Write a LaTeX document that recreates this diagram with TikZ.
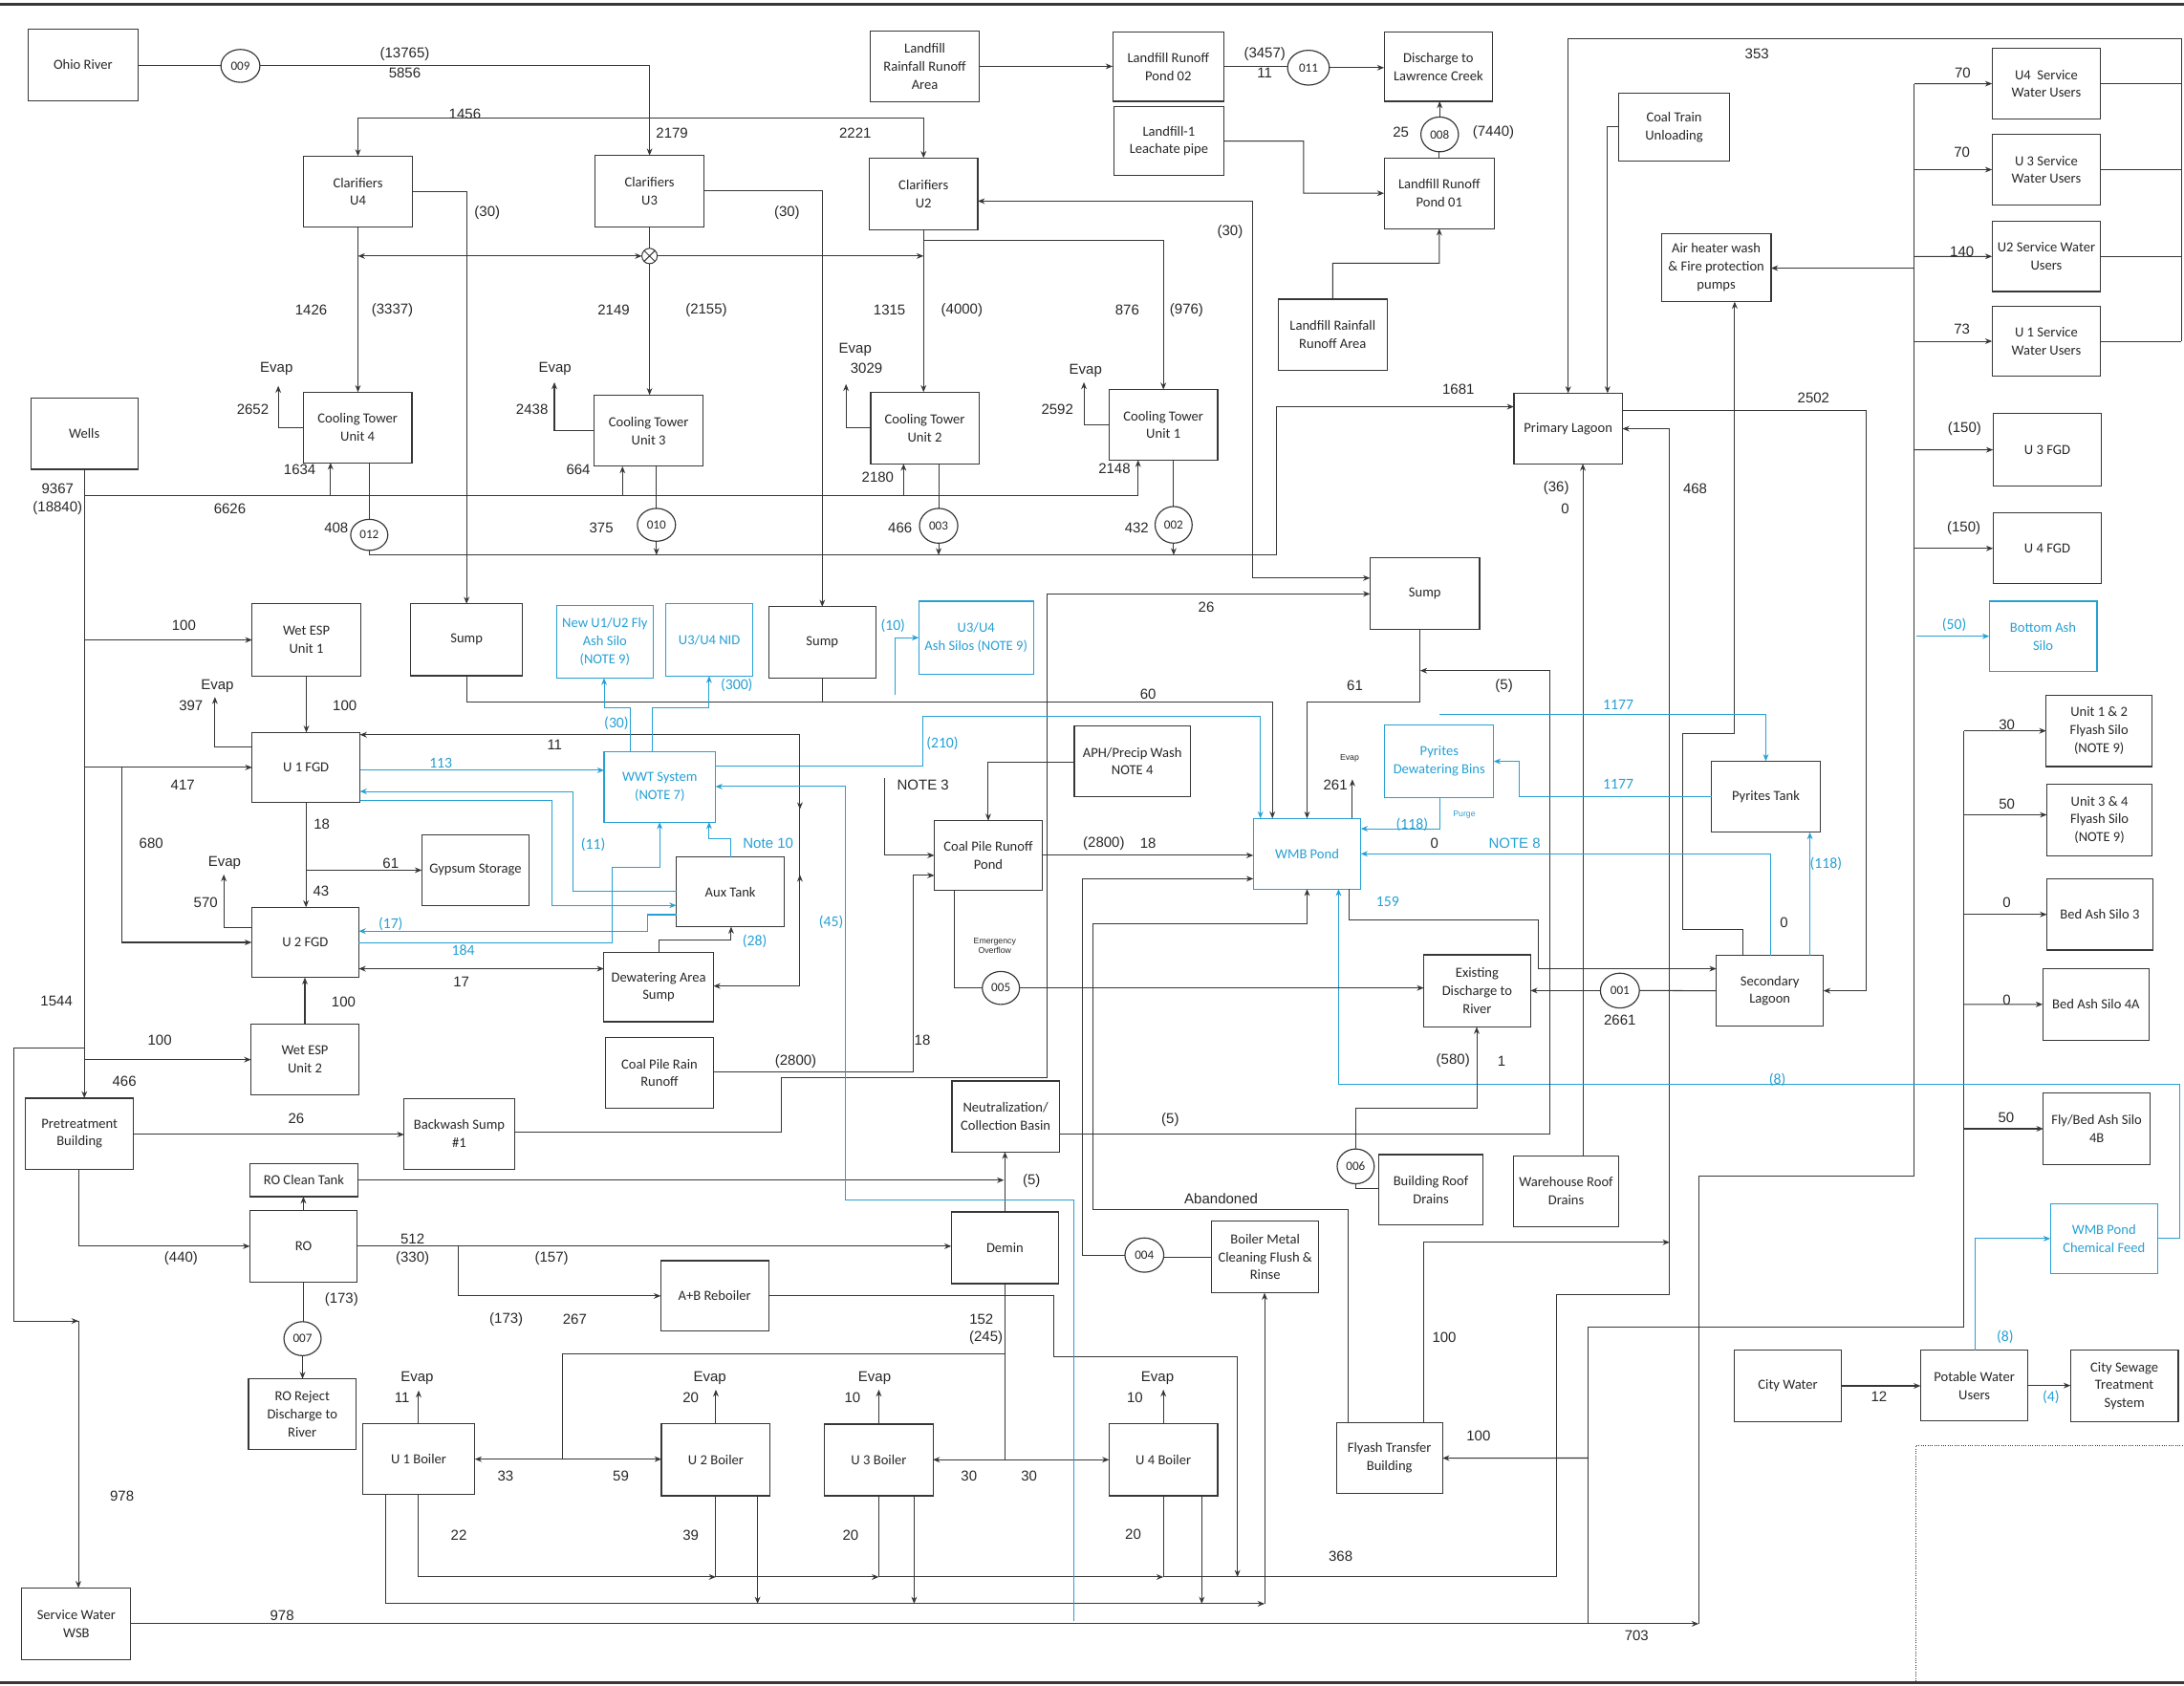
\documentclass[tikz,border=0pt]{standalone}
\usepackage{fontspec}
\setmainfont{Carlito}
\newfontfamily\arialf{Liberation Sans}
\usetikzlibrary{arrows.meta,shapes.geometric}
\definecolor{bluec}{RGB}{38,160,212}
\definecolor{ink}{RGB}{55,55,55}
\definecolor{txt}{RGB}{40,40,40}
\newcounter{lbn}
\newcommand\BX[7]{\node[#1, minimum width={(#5-#3)*1pt}, minimum height={(#6-#4)*1pt}] (#2) at ({(#3+#5)/2},{(#4+#6)/2}) {#7};}
\newcommand\OV[6]{\node[ov, minimum width=#4pt, minimum height=#5pt] (#1) at (#2,#3) {#6};}
\newcommand\LB[3][]{\stepcounter{lbn}\node[lab,#1] (lb\thelbn) at (#2) {#3};}
\tikzset{
 bx/.style={draw=ink, line width=0.8pt, align=center, inner sep=1pt, outer sep=0pt, text=txt, font=\fontsize{10}{12.9}\selectfont},
 bbx/.style={bx, draw=bluec, text=bluec},
 ov/.style={draw=ink, line width=0.8pt, ellipse, inner sep=0pt, outer sep=0pt, text=txt, font=\fontsize{9}{10}\selectfont},
 ln/.style={draw=ink, line width=0.7pt},
 bl/.style={draw=bluec, line width=0.7pt},
 ar/.style={-{Stealth[length=5pt,width=4pt]}},
 dar/.style={{Stealth[length=5pt,width=4pt]}-{Stealth[length=5pt,width=4pt]}},
 lab/.style={inner sep=0pt, text=txt, font=\arialf\fontsize{10.3}{12}\selectfont},
 blab/.style={text=bluec, font=\fontsize{10.8}{12}\selectfont},
 bnote/.style={text=bluec},
 tinylab/.style={font=\arialf\fontsize{6}{7}\selectfont, align=center},
}
\begin{document}
\begin{tikzpicture}[x=1pt,y=-1pt]
\useasboundingbox (0,0) rectangle (1568,1210);
\fill[white] (0,0) rectangle (1568,1210);
\draw[ink, line width=1.6pt] (0,3) -- (1568,3);
\draw[ink, line width=1.6pt] (0,1208) -- (1568,1208);

% ---------------- boxes ----------------
\BX{bx}{ohio}{20.3}{21}{99}{72.2}{Ohio River}
\OV{o009}{172.6}{47.3}{28}{23.6}{009}
\BX{bx}{lrra}{624.6}{22.3}{703.3}{73}{Landfill\\Rainfall Runoff\\Area}
\BX{bx}{lrp2}{798.8}{23.1}{878.8}{72.7}{Landfill Runoff\\Pond 02}
\OV{o011}{939.4}{48.6}{30}{25}{011}
\BX{bx}{dlc}{993.7}{23.1}{1071.7}{72.7}{Discharge to\\Lawrence Creek}
\BX{bx}{leach}{799.6}{76.7}{878.8}{126}{Landfill-1\\Leachate pipe}
\OV{o008}{1033.6}{96.5}{27}{25}{008}
\BX{bx}{lrp1}{993.7}{113.4}{1072.9}{164.1}{Landfill Runoff\\Pond 01}
\BX{bx}{lrra2}{917.6}{214.8}{996}{265.7}{Landfill Rainfall\\Runoff Area}
\BX{bx}{ctu}{1162}{67}{1241.8}{115.5}{Coal Train\\Unloading}
\BX{bx}{clu4}{217.8}{112.1}{296.2}{163.1}{Clarifiers\\U4}
\BX{bx}{clu3}{427.1}{111.6}{505.6}{162.8}{Clarifiers\\U3}
\BX{bx}{clu2}{624.1}{113.4}{702}{164.9}{Clarifiers\\U2}
\BX{bx}{ct4}{217.8}{281.5}{295.7}{332.2}{Cooling Tower\\Unit 4}
\BX{bx}{ct3}{426.6}{283.6}{504.8}{334.8}{Cooling Tower\\Unit 3}
\BX{bx}{ct2}{625.1}{281.5}{702.8}{333}{Cooling Tower\\Unit 2}
\BX{bx}{ct1}{796.3}{279.7}{874.2}{330.3}{Cooling Tower\\Unit 1}
\OV{o012}{265.1}{384}{26.7}{22.3}{012}
\OV{o010}{471.3}{376.8}{27.4}{23.6}{010}
\OV{o003}{673.9}{377.5}{27.5}{25}{003}
\OV{o002}{842.6}{376.8}{26.6}{26.3}{002}
\node[draw=ink, line width=0.7pt, circle, minimum size=11pt, inner sep=0pt, outer sep=0pt] (ox) at (466.35,183.8) {};
\draw[ln] (ox.north west) -- (ox.south east) (ox.north east) -- (ox.south west);
\BX{bx}{wells}{22.1}{285.7}{99}{336.9}{Wells}
\BX{bx}{pl}{1086.9}{282.3}{1164.8}{333}{Primary Lagoon}
\BX{bx}{ahw}{1192.8}{167.5}{1271.5}{216.6}{Air heater wash\\\& Fire protection\\pumps}
\BX{bx}{u4sw}{1430.2}{34.9}{1508.1}{85.3}{U4~ Service\\Water Users}
\BX{bx}{u3sw}{1430.2}{96.6}{1508.1}{147}{U 3 Service\\Water Users}
\BX{bx}{u2sw}{1430.2}{158.9}{1508.1}{209.3}{U2 Service Water\\Users}
\BX{bx}{u1sw}{1430.2}{220}{1508.1}{270}{U 1 Service\\Water Users}
\BX{bx}{u3fgd}{1430.9}{296.7}{1508.8}{349.2}{U 3 FGD}
\BX{bx}{u4fgd}{1430.9}{368.4}{1508.8}{419}{U 4 FGD}
\BX{bbx}{bas}{1428.1}{431.6}{1505.5}{482}{Bottom Ash\\Silo}
\BX{bx}{sump1}{294.9}{433.5}{375.1}{485.2}{Sump}
\BX{bx}{sump2}{551.8}{435.6}{628.9}{486.8}{Sump}
\BX{bbx}{nusilo}{399.5}{434.8}{469}{486.8}{New U1/U2 Fly\\Ash Silo\\(NOTE 9)}
\BX{bbx}{nid}{478.2}{433.5}{540.3}{485.4}{U3/U4 NID}
\BX{bbx}{ash34}{659.6}{431.6}{741.9}{484.1}{U3/U4\\Ash Silos (NOTE 9)}
\BX{bx}{sump3}{983.6}{400.6}{1062.3}{451.8}{Sump}
\BX{bx}{wesp1}{181}{433.5}{258.9}{485.4}{Wet ESP\\Unit 1}
\BX{bx}{u1fgd}{181}{525.9}{258.4}{576}{U 1 FGD}
\BX{bx}{gyp}{302.8}{599.4}{380}{650.1}{Gypsum Storage}
\BX{bx}{u2fgd}{180.7}{651.4}{257.6}{701.8}{U 2 FGD}
\BX{bx}{wesp2}{180.2}{735.4}{257.6}{786.1}{Wet ESP\\Unit 2}
\BX{bbx}{wwt}{433.7}{539.8}{513.7}{590.2}{WWT System\\(NOTE 7)}
\BX{bx}{aux}{485.5}{615.4}{563.2}{665.3}{Aux Tank}
\BX{bx}{dew}{433.5}{683.7}{512.2}{733.6}{Dewatering Area\\Sump}
\BX{bx}{cprr}{434.8}{744.6}{512.2}{795.8}{Coal Pile Rain\\Runoff}
\BX{bx}{cprp}{670.8}{589.2}{748.2}{639}{Coal Pile Runoff\\Pond}
\BX{bx}{aph}{771.3}{520.9}{854.6}{572.1}{APH/Precip Wash\\NOTE 4}
\BX{bbx}{wmb}{899.8}{587.6}{977}{638.3}{WMB Pond}
\BX{bbx}{pdb}{994.2}{520.6}{1072.4}{572.6}{Pyrites\\Dewatering Bins}
\BX{bx}{ptank}{1228.9}{546.4}{1306.6}{597.6}{Pyrites Tank}
\BX{bx}{slag}{1232.2}{686}{1309.1}{736.7}{Secondary\\Lagoon}
\BX{bx}{edr}{1022.2}{685.5}{1098.8}{737.3}{Existing\\Discharge to\\River}
\OV{o001}{1163}{711.2}{28}{25}{001}
\OV{o005}{718.6}{709.3}{26.7}{23.7}{005}
\BX{bx}{neut}{683.5}{776.1}{760.4}{827}{Neutralization/\\Collection Basin}
\OV{o006}{973.3}{837.4}{26.6}{25}{006}
\BX{bx}{brd}{990}{828.9}{1064.6}{879.3}{Building Roof\\Drains}
\BX{bx}{wrd}{1086.4}{829.7}{1162.3}{880.6}{Warehouse Roof\\Drains}
\BX{bx}{bmc}{869.9}{876.7}{946.8}{928.2}{Boiler Metal\\Cleaning Flush \&\\Rinse}
\OV{o004}{821.6}{901.1}{27.9}{24.6}{004}
\BX{bx}{fatb}{959.5}{1021.4}{1035.6}{1072.3}{Flyash Transfer\\Building}
\BX{bx}{pre}{18.3}{788.4}{95.9}{839.4}{Pretreatment\\Building}
\BX{bx}{bws}{290.1}{788.7}{369.3}{839.4}{Backwash Sump\\\#1}
\BX{bx}{roct}{179.4}{835.5}{256.9}{859.1}{RO Clean Tank}
\BX{bx}{ro}{179.4}{869.1}{256.3}{920.3}{RO}
\OV{o007}{217.2}{961.1}{26.7}{24.4}{007}
\BX{bx}{ror}{178.4}{989.9}{255.6}{1040.8}{RO Reject\\Discharge to\\River}
\BX{bx}{demin}{683}{870.1}{760}{921.6}{Demin}
\BX{bx}{abr}{474.4}{905.1}{551.8}{955.7}{A+B Reboiler}
\BX{bx}{u1b}{260.2}{1021.9}{340.9}{1073.1}{U 1 Boiler}
\BX{bx}{u2b}{474.9}{1021.9}{553}{1073.9}{U 2 Boiler}
\BX{bx}{u3b}{592.1}{1022.4}{669.8}{1073.9}{U 3 Boiler}
\BX{bx}{u4b}{796.3}{1021.9}{874.2}{1073.9}{U 4 Boiler}
\BX{bx}{wsb}{15.7}{1140.1}{93.9}{1191.8}{Service Water\\WSB}
\BX{bx}{u12fs}{1469}{499.1}{1545.1}{550.3}{Unit 1 \& 2\\Flyash Silo\\(NOTE 9)}
\BX{bx}{u34fs}{1469.5}{562.9}{1545.1}{614.6}{Unit 3 \& 4\\Flyash Silo\\(NOTE 9)}
\BX{bx}{bas3}{1469.5}{630.9}{1545.6}{682.1}{Bed Ash Silo 3}
\BX{bx}{bas4a}{1466.5}{695.5}{1543.1}{746.7}{Bed Ash Silo 4A}
\BX{bx}{fbas4b}{1467}{784.8}{1543.6}{836}{Fly/Bed Ash Silo\\4B}
\BX{bbx}{wmbcf}{1472}{864.3}{1549}{914.2}{WMB Pond\\Chemical Feed}
\BX{bx}{cw}{1245.4}{969.4}{1321.8}{1020.6}{City Water}
\BX{bx}{pwu}{1378.9}{969.4}{1456}{1020.1}{Potable Water\\Users}
\BX{bx}{cst}{1486.5}{969.4}{1563.9}{1020.6}{City Sewage\\Treatment\\System}

% ---------------- connectors: intake / clarifiers / towers ----------------
\draw[ln] (o009.west -| ohio.east) -- (o009.west);
\draw[ln,ar] (o009.east) -| (clu3.north);
\draw[ln,ar] (466.35,84.8) -| (clu4.north);
\draw[ln,ar] (466.35,84.8) -| (clu2.north);
\draw[ln,ar] (clu4.east) -| (sump1.north);
\draw[ln,ar] (clu3.east) -| (sump2.north);
\draw[ln,dar] (clu2.east |- 0,144.4) -- (899.6,144.4) -- (899.6,415) -- (sump3.west |- 0,415);
\draw[ln,ar] (clu4.south) -- (clu4.south |- ct4.north);
\draw[ln] (clu3.south) -- (ox.north);
\draw[ln,ar] (ox.south) -- (ox.south |- ct3.north);
\draw[ln,ar] (clu2.south) -- (clu2.south |- ct2.north);
\draw[ln,dar] (clu4.south |- 0,183.8) -- (ox.west);
\draw[ln,ar] (ox.east) -- (clu2.south |- 0,183.8);
\draw[ln,ar] (clu2.south |- 0,172.5) -| (ct1.north);
\draw[ln,ar] (ct4.west) -| (199.8,277);
\draw[ln,ar] (ct3.west) -| (398,274.4);
\draw[ln,ar] (ct2.west) -| (607.4,275.7);
\draw[ln,ar] (ct1.west) -| (778.2,274.4);
\draw[ln,ar] (wells.south) -- (wells.south |- pre.north);
\draw[ln] (wells.south |- 0,356) -- (817.1,356);
\draw[ln,ar] (817.1,356) -- (ct1.south -| 817.1,0);
\draw[ln,ar] (237.3,356) -- (ct4.south -| 237.3,0);
\draw[ln,ar] (446.9,356) -- (ct3.south -| 446.9,0);
\draw[ln,ar] (648.7,356) -- (ct2.south -| 648.7,0);
\draw[ln] (o012.north |- ct4.south) -- (o012.north);
\draw[ln] (o010.north |- ct3.south) -- (o010.north);
\draw[ln] (o003.north |- ct2.south) -- (o003.north);
\draw[ln] (o002.north |- ct1.south) -- (o002.north);
\draw[ln,ar] (o012.south) |- (916.1,398.5) -- (916.1,292) -- (pl.west |- 0,292);
\draw[ln,ar] (o010.south) -- (o010.south |- 0,398.5);
\draw[ln,ar] (o003.south) -- (o003.south |- 0,398.5);
\draw[ln,ar] (o002.south) -- (o002.south |- 0,398.5);

% ---------------- landfill ----------------
\draw[ln,ar] (lrra.east) -- (lrra.east -| lrp2.west);
\draw[ln] (lrp2.east) -- (lrp2.east -| o011.west);
\draw[ln,ar] (o011.east) -- (o011.east -| dlc.west);
\draw[ln,ar] (leach.east) -- (935.9,101.35) |- (lrp1.west);
\draw[ln] (lrp1.north) -- (lrp1.north |- o008.south);
\draw[ln,ar] (o008.north) -- (o008.north |- dlc.south);
\draw[ln,ar] (lrra2.north) |- (1033.3,189) -- (lrp1.south);

% ---------------- primary lagoon / service water ----------------
\draw[ln] (u4sw.east) -- (u4sw.east -| 1566,0);
\draw[ln] (u3sw.east) -- (u3sw.east -| 1566,0);
\draw[ln] (u2sw.east) -- (u2sw.east -| 1566,0);
\draw[ln] (u1sw.east) -- (u1sw.east -| 1566,0);
\draw[ln,ar] (1566,245) -- (1566,27.6) -| (pl.north);
\draw[ln,ar] (ctu.west) -| (pl.north -| 1154.1,0);
\draw[ln,ar] (pl.east |- 0,294.6) -| (1340,711.3) -- (slag.east |- 0,711.3);
\draw[ln,ar] (1117.3,1132.2) -- (1117.3,929.2) -- (1198.7,929.2) -- (1198.7,307.8) -- (pl.east |- 0,307.8);
\draw[ln,ar] (fatb.north -| 1022.2,0) |- (1198.7,891.9);
\draw[ln,ar] (wrd.north -| 1136.4,0) -- (pl.south -| 1136.4,0);
\draw[ln,ar] (slag.north -| 1251.2,0) -- (1251.2,667.2) -- (1208,667.2) -- (1208,526.7) -- (1245.4,526.7) -- (ahw.south -| 1245.4,0);
\draw[ln,ar] (wsb.east |- 0,1165.8) -- (1219.5,1165.8);
\draw[ln] (1219.5,1165.8) -- (1219.5,844.7) -- (1374.3,844.7) -- (1374.3,60.1);
\draw[ln,ar] (1374.3,192.5) -- (ahw.east |- 0,192.5);
\draw[ln,ar] (1374.3,60.1) -- (u4sw.west);
\draw[ln,ar] (1374.3,121.8) -- (u3sw.west);
\draw[ln,ar] (1374.3,184.1) -- (u2sw.west);
\draw[ln,ar] (1374.3,245) -- (u1sw.west);
\draw[ln,ar] (1374.3,323) -- (u3fgd.west);
\draw[ln,ar] (1374.3,393.7) -- (u4fgd.west);
\draw[bl,ar] (1375.6,456.8) -- (bas.west);

% ---------------- ash silos / city water ----------------
\draw[ln] (1140.2,1165.8) -- (1140.2,953.1) -- (1409.9,953.1) -- (1409.9,524.7);
\draw[ln,ar] (1409.9,524.7) -- (u12fs.west);
\draw[ln,ar] (1409.9,585) -- (u34fs.west |- 0,585);
\draw[ln,ar] (1409.9,656.5) -- (bas3.west);
\draw[ln,ar] (1409.9,721.1) -- (bas4a.west);
\draw[ln,ar] (1409.9,810.4) -- (fbas4b.west);
\draw[ln,ar] (1140.2,1046.8) -- (fatb.east);
\draw[ln,ar] (cw.east) -- (cw.east -| pwu.west);
\draw[ln,ar] (pwu.east) -- (pwu.east -| cst.west);
\draw[bl,ar] (pwu.north -| 1418.2,0) |- (wmbcf.west);
\draw[bl,ar] (wmbcf.east) -| (1564.7,778.5) -- (961,778.5) -- (wmb.south -| 961,0);
\draw[ink, densely dotted, line width=0.6pt] (1375.6,1207) -- (1375.6,1037.7) -- (1568,1037.7);

% ---------------- FGD area ----------------
\draw[ln,ar] (60.55,459.45) -- (wesp1.west);
\draw[ln,ar] (wesp1.south) -- (wesp1.south |- u1fgd.north);
\draw[ln,ar] (60.55,550.95) -- (u1fgd.west);
\draw[ln,ar] (87.6,550.95) |- (u2fgd.west);
\draw[ln,ar] (u1fgd.west |- 0,536.6) -| (154.3,500.4);
\draw[ln,ar] (u1fgd.south) -- (u1fgd.south |- u2fgd.north);
\draw[ln,ar] (u1fgd.south |- 0,624.75) -- (gyp.west);
\draw[ln,ar] (u2fgd.west |- 0,665.8) -| (160.7,627.8);
\draw[ln,ar] (wesp2.north) -- (wesp2.north |- u2fgd.south);
\draw[ln,ar] (60.55,760.75) -- (wesp2.west);
\draw[ln] (60.55,752.5) -- (10.2,752.5) -- (10.2,948.4) -- (56.3,948.4);
\draw[ln,ar] (10.2,948.4) -- (56.3,948.4);
\draw[ln,ar] (56.3,948.4) -- (wsb.north -| 56.3,0);

% ---------------- pretreatment / RO ----------------
\draw[ln,ar] (pre.east |- 0,814.5) -- (bws.west |- 0,814.5);
\draw[ln,ar] (pre.south -| 56.3,0) |- (ro.west);
\draw[ln,ar] (ro.north) -- (ro.north |- roct.south);
\draw[ln] (ro.south) -- (ro.south |- o007.north);
\draw[ln,ar] (o007.south) -- (o007.south |- ror.north);
\draw[ln,ar] (ro.east) -- (ro.east -| demin.west);
\draw[ln,ar] (329.2,894.7) |- (abr.west);
\draw[ln,ar] (roct.east) -- (720.8,847.3);
\draw[ln,ar] (demin.north) -- (demin.north |- neut.south);
\draw[ln,ar] (bws.east |- 0,813.1) -- (561.2,813.1) -- (561.2,773.5) -- (751.5,773.5) -- (751.5,426.4) -- (sump3.west |- 0,426.4);

% ---------------- boilers ----------------
\draw[ln,ar] (abr.east) -- (756.6,930.4) -- (756.6,974.1) -- (888.4,974.1) -- (888.4,1132.2);
\draw[ln] (demin.south) -- (721.5,1048);
\draw[ln] (721.5,972) -- (403.8,972) -- (403.8,1047.6);
\draw[ln,ar] (403.8,1047.6) -- (u1b.east |- 0,1047.6);
\draw[ln,ar] (403.8,1047.6) -- (u2b.west |- 0,1047.6);
\draw[ln,ar] (721.5,1048) -- (u3b.east |- 0,1048);
\draw[ln,ar] (721.5,1048) -- (u4b.west |- 0,1048);
\draw[ln,ar] (u1b.north) -- ++(0,-23.6);
\draw[ln,ar] (u2b.north) -- ++(0,-24.2);
\draw[ln,ar] (u3b.north) -- ++(0,-24.7);
\draw[ln,ar] (u4b.north) -- ++(0,-24.2);
\draw[ln,ar] (u1b.south) |- (u2b.south |- 0,1132.2);
\draw[ln,ar] (u2b.south) |- (u3b.south |- 0,1132.2);
\draw[ln,ar] (u3b.south) |- (u4b.south |- 0,1132.2);
\draw[ln] (u4b.south) |- (1117.3,1132.2);
\draw[ln,ar] (u1b.south -| 276.7,0) |- (907.9,1151.4);
\draw[ln,ar] (907.9,1151.4) -- (bmc.south -| 907.9,0);
\draw[ln,ar] (u2b.south -| 543.9,0) -- (543.9,1151.4);
\draw[ln,ar] (u3b.south -| 656.3,0) -- (656.3,1151.4);
\draw[ln,ar] (u4b.south -| 862.8,0) -- (862.8,1151.4);
\draw[ln] (bmc.west) -- (bmc.west -| o004.east);
\draw[ln,ar] (o004.west) -- (776.9,901.1) -- (776.9,630.9) -- (wmb.west |- 0,630.9);
\draw[ln,ar] (fatb.north -| 967.6,0) -- (967.6,868.3) -- (784.8,868.3) -- (784.8,663.2) -- (938.4,663.2) -- (wmb.south);

% ---------------- WMB pond area ----------------
\draw[ln,ar] (sump1.south) |- (913.5,504.3) -- (wmb.north -| 913.5,0);
\draw[ln] (sump2.south) -- (sump2.south |- 0,504.3);
\draw[ln,ar] (sump3.south -| 1019.6,0) |- (938.4,504.3) -- (wmb.north);
\draw[ln,ar] (wmb.north -| 970.9,0) -- (970.9,559.5);
\draw[ln,ar] (neut.east |- 0,814.5) -- (1113,814.5) -- (1113,481.5) -- (1019.6,481.5);
\draw[ln,ar] (cprp.east) -- (cprp.east -| wmb.west);
\draw[ln,ar] (wmb.south -| 968.9,0) |- (1104.7,660.6) -- (1104.7,695.5) -- (slag.west |- 0,695.5);
\draw[bl,ar] (slag.north -| 1271,0) -- (1271,613) -- (wmb.east |- 0,613);
\draw[bl,ar] (pdb.south -| 1033.6,0) |- (wmb.east |- 0,595);
\draw[bl,ar] (1033.6,512.8) -| (ptank.north);
\draw[bl,ar] (ptank.west) -- (1090.7,572) -- (1090.7,546.6) -- (pdb.east);
\draw[bl,ar] (slag.north -| 1299.4,0) -- (ptank.south -| 1299.4,0);
\draw[bl,ar] (wwt.east |- 0,549.8) -- (662.7,549.8) -- (662.7,514.5) -| (wmb.north -| 904.9,0);
\draw[bl,ar] (642.4,499.1) |- (ash34.west);
\draw[ln] (slag.west |- 0,711.3) -- (o001.east);
\draw[ln,ar] (o001.west) -- (o001.west -| edr.east);
\draw[ln] (cprp.south -| 685.5,0) |- (o005.west);
\draw[ln,ar] (o005.east) -- (o005.east -| edr.west);
\draw[ln] (brd.west |- 0,853) -| (o006.south);
\draw[ln,ar] (o006.north) |- (1060.2,795.8) -- (edr.south -| 1060.2,0);
\draw[ln,ar] (aph.west |- 0,547.2) -| (cprp.north);
\draw[ln,ar] (635.3,558.7) |- (cprp.west);
\draw[ln,ar] (cprr.east |- 0,769.6) -- (655.8,769.6) |- (cprp.west |- 0,628.5);

% ---------------- WWT area ----------------
\draw[ln,ar] (574.3,527.5) -- (u1fgd.east |- 0,527.5);
\draw[ln,ar] (574.3,527.5) |- (dew.east |- 0,707.9);
\draw[ln,ar] (574.3,570) -- (574.3,581);
\draw[ln,ar] (574.3,640) -- (574.3,628);
\draw[ln,dar] (u2fgd.east |- 0,695.5) -- (dew.west |- 0,695.5);
\draw[ln,ar] (dew.north) |- (524.9,675) -- (aux.south -| 524.9,0);
\draw[bl,ar] (u1fgd.east |- 0,553) -- (wwt.west |- 0,553);
\draw[bl,ar] (aux.west |- 0,640) -- (411.4,640) |- (u1fgd.east |- 0,568.2);
\draw[bl,ar] (u1fgd.east |- 0,575) -- (396.2,575) |- (aux.west |- 0,650);
\draw[bl,ar] (aux.west |- 0,656.7) -- (464.7,656.7) |- (u2fgd.east |- 0,668.5);
\draw[bl,ar] (u2fgd.east |- 0,676.9) -- (439.3,676.9) |- (473.6,622.5) -- (wwt.south -| 473.6,0);
\draw[bl,ar] (aux.north) |- (509.1,602.3) -- (wwt.south -| 509.1,0);
\draw[bl,ar] (wwt.north -| 452.8,0) |- (433.7,507.8) -- (nusilo.south -| 433.7,0);
\draw[bl,ar] (wwt.north -| 468.5,0) |- (509.1,507.8) -- (nid.south -| 509.1,0);
\draw[bl,ar] (771.1,1163.7) -- (771.1,861.7) -- (606.8,861.7) |- (wwt.east |- 0,564.7);

% ---------------- labels ----------------
\LB{290.6,38.9}{(13765)} \LB{290.6,52.5}{5856} \LB{333.8,81.9}{1456}
\LB{482.5,95.3}{2179} \LB{614,95.3}{2221}
\LB{349.8,153.1}{(30)} \LB{565,153.1}{(30)} \LB{883.1,166.2}{(30)}
\LB{223.4,222.7}{1426} \LB{281.7,222.7}{(3337)} \LB{440.6,222.7}{2149} \LB{507.1,222.7}{(2155)}
\LB{638.6,222.7}{1315} \LB{690.6,222.7}{(4000)} \LB{809.3,222.7}{876} \LB{851.9,222.7}{(976)}
\LB{198.5,264.7}{Evap} \LB{181.5,294.1}{2652} \LB{398.5,265}{Evap} \LB{382,294.1}{2438}
\LB{614,250.8}{Evap} \LB{622.1,264.7}{3029} \LB{779.4,266}{Evap} \LB{759.1,294.1}{2592}
\LB{215.2,336.9}{1634} \LB{415.2,336.9}{664} \LB{630.2,342.7}{2180} \LB{800.1,336.6}{2148}
\LB{41.4,350.6}{9367} \LB{41.4,365}{(18840)} \LB{165,365}{6626}
\LB{241.4,378.9}{408} \LB{431.7,378.9}{375} \LB{646.2,378.9}{466} \LB{816.1,378.9}{432}
\LB{1047,279.7}{1681} \LB{908,38.9}{(3457)} \LB{908,52.5}{11}
\LB{1005.7,95.1}{25} \LB{1072.2,95.1}{(7440)} \LB{1261.4,38.6}{353} \LB{1302,285.7}{2502}
\LB{1217,350.6}{468} \LB{1117.3,350.6}{(36)} \LB{1123.7,365}{0}
\LB{1409.1,52.5}{70} \LB{1408.6,109}{70} \LB{1408.6,180.7}{140} \LB{1408.6,236.3}{73}
\LB{1410.4,307.7}{(150)} \LB{1409.9,378.9}{(150)}
\LB{1440.8,520.6}{30} \LB{1440.8,577.4}{50} \LB{1440.8,648.2}{0} \LB{1440.8,717.8}{0} \LB{1440.3,802.6}{50}
\LB{1349,1003}{12}
\LB{132,448.7}{100} \LB{247.5,506.4}{100} \LB{156.1,492.5}{Evap} \LB{137.1,506.4}{397}
\LB{131.2,563.4}{417} \LB{108.6,605.4}{680} \LB{231,591.8}{18} \LB{280.5,619.9}{61} \LB{230.5,640.1}{43}
\LB{161.2,619.9}{Evap} \LB{147.7,648.2}{570} \LB{246.7,719.7}{100} \LB{114.7,746.7}{100}
\LB{89.3,776.1}{466} \LB{40.6,718.9}{1544} \LB{398.2,534.5}{11} \LB{331.2,704.7}{17}
\LB{212.7,803.4}{26} \LB{130,903.7}{(440)} \LB{296.2,889.3}{512} \LB{296.2,903.7}{(330)}
\LB{396,903.7}{(157)} \LB{363.5,947.1}{(173)} \LB{412.7,947.1}{267} \LB{245.2,933.1}{(173)}
\LB{87.6,1073.9}{978} \LB{202.5,1159.8}{978} \LB{1175,1174.2}{703}
\LB{740.6,847.8}{(5)} \LB{704.6,947.1}{152} \LB{707.9,960.2}{(245)}
\LB{363,1059.5}{33} \LB{445.7,1059.5}{59} \LB{695.7,1059.5}{30} \LB{738.8,1059.5}{30}
\LB{299.5,989.6}{Evap} \LB{288.6,1003.5}{11} \LB{509.6,989.6}{Evap} \LB{495.9,1003.5}{20}
\LB{627.9,989.6}{Evap} \LB{612,1003.5}{10} \LB{831,989.6}{Evap} \LB{814.8,1003.5}{10}
\LB{329.4,1102}{22} \LB{495.9,1102}{39} \LB{610.7,1102}{20} \LB{813.5,1101.5}{20}
\LB{962.5,1117.7}{368} \LB{1036.9,960.2}{100} \LB{1061.5,1030.8}{100}
\LB{876.7,860.7}{Abandoned} \LB{840.2,803.7}{(5)} \LB{1079.8,492.5}{(5)}
\LB{866,436.1}{26} \LB{824.2,498.6}{60} \LB{972.7,492}{61} \LB{958.7,563.4}{261}
\LB{792.5,605.4}{(2800)} \LB{824.2,605.4}{18} \LB{1029.8,605.4}{0} \LB{1280.9,662.4}{0}
\LB{1163,732.3}{2661} \LB{1043.2,761.7}{(580)} \LB{1078,761.7}{1}
\LB{662.7,563.4}{NOTE 3} \LB{571.3,762.2}{(2800)} \LB{662.2,746.7}{18}
\LB[tinylab]{968.9,544.5}{Evap}
\LB[tinylab]{714.2,679}{Emergency\\Overflow}
\LB[tinylab,bnote]{1051.3,585}{Purge}
% blue labels
\LB[blab]{316.5,548.2}{113} \LB[blab]{280.5,663.2}{(17)} \LB[blab]{332.5,682.1}{184}
\LB[blab]{425.9,606.2}{(11)} \LB[blab]{442.6,519.6}{(30)} \LB[blab]{528.9,492}{(300)}
\LB[bnote]{551.5,605.5}{Note 10} \LB[blab]{541.9,675.8}{(28)} \LB[blab]{596.7,661.9}{(45)}
\LB[blab]{676.6,534}{(210)} \LB[blab]{641.1,449.2}{(10)} \LB[blab]{1013.8,591.8}{(118)}
\LB[bnote]{1087.4,605.4}{NOTE 8} \LB[blab]{996.3,647.5}{159}
\LB[blab]{1161.8,505.7}{1177} \LB[blab]{1161.8,562.9}{1177} \LB[blab]{1310.9,619.9}{(118)}
\LB[blab]{1276.1,775.3}{(8)} \LB[blab]{1403,448.7}{(50)} \LB[blab]{1439.6,959.7}{(8)}
\LB[blab]{1472.5,1003}{(4)}
\end{tikzpicture}
\end{document}
